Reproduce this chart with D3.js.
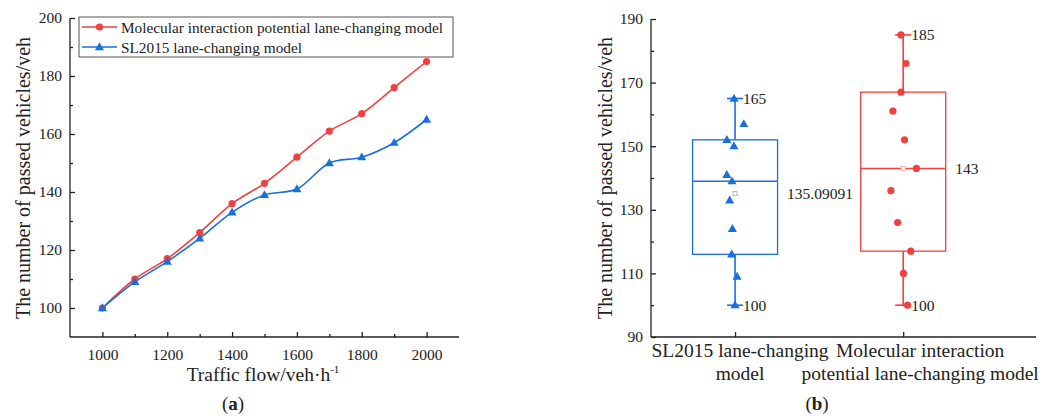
<!DOCTYPE html>
<html>
<head>
<meta charset="utf-8">
<script src="https://cdn.jsdelivr.net/npm/d3@7"></script>
<style>
  body { margin: 0; background: #fff; }
  text { font-family: "Liberation Serif", "Times New Roman", serif; fill: #222; }
</style>
</head>
<body>
<svg id="chart" width="1052" height="416"></svg>
<script>
// ---- data ----
var flows = [1000, 1100, 1200, 1300, 1400, 1500, 1600, 1700, 1800, 1900, 2000];
var molecular = [100, 110, 117, 126, 136, 143, 152, 161, 167, 176, 185];
var sl2015 = [100, 109, 116, 124, 133, 139, 141, 150, 152, 157, 165];
// horizontal jitter of the scatter points in panel (b), category units
var jitterSL = [0, 0.012, -0.02, -0.016, -0.032, -0.018, -0.049, -0.007, -0.049, 0.052, -0.006];
var jitterMol = [0.026, 0.002, 0.045, -0.033, -0.073, 0.079, 0.008, -0.061, -0.013, 0.017, -0.013];
var catLabels = [["SL2015 lane-changing", "model"], ["Molecular interaction", "potential lane-changing model"]];
var meanLabels = ["135.09091", "143"];

var red = "#F14040", blue = "#1A6FDF";
var svg = d3.select("#chart");

// ---- panel (a) ----
var xa = d3.scaleLinear().domain([900, 2100]).range([70, 459]);
var ya = d3.scaleLinear().domain([90, 200]).range([337, 18]);

var ga = svg.append("g");
ga.append("g")
    .attr("transform", "translate(0,337)")
    .call(d3.axisBottom(xa).tickValues(d3.range(1000, 2001, 200)).tickSize(-5).tickPadding(12).tickFormat(d3.format("d")))
    .call(g => g.select(".domain").attr("d", "M70,0H459"));
ga.append("g")
    .attr("transform", "translate(0,337)")
    .call(d3.axisBottom(xa).tickValues(d3.range(1100, 2000, 200)).tickSize(-3).tickFormat(""))
    .call(g => g.select(".domain").remove());
ga.append("g")
    .attr("transform", "translate(70,0)")
    .call(d3.axisLeft(ya).tickValues(d3.range(100, 201, 20)).tickSize(-5).tickPadding(8))
    .call(g => g.select(".domain").attr("d", "M0,337V18"));
ga.append("g")
    .attr("transform", "translate(70,0)")
    .call(d3.axisLeft(ya).tickValues(d3.range(110, 200, 20)).tickSize(-3).tickFormat(""))
    .call(g => g.select(".domain").remove());

svg.selectAll(".tick text").style("font-size", "15.5px").style("font-family", "Liberation Serif");
svg.selectAll(".domain, .tick line").attr("stroke", "#222").attr("stroke-width", 1.3);

var line = d3.line().x((d, i) => xa(flows[i])).y(d => ya(d)).curve(d3.curveCatmullRom);
ga.append("path").datum(molecular).attr("d", line).attr("fill", "none").attr("stroke", red).attr("stroke-width", 1.6);
ga.append("path").datum(sl2015).attr("d", line).attr("fill", "none").attr("stroke", blue).attr("stroke-width", 1.6);

ga.selectAll(".pm").data(molecular).enter().append("circle")
    .attr("cx", (d, i) => xa(flows[i])).attr("cy", d => ya(d)).attr("r", 3.6).attr("fill", red);
var tri = d3.symbol().type(d3.symbolTriangle).size(36);
ga.selectAll(".ps").data(sl2015).enter().append("path")
    .attr("d", tri).attr("transform", (d, i) => "translate(" + xa(flows[i]) + "," + (ya(d) + 0.5) + ")").attr("fill", blue);

// legend
var lg = ga.append("g");
lg.append("rect").attr("x", 79).attr("y", 17).attr("width", 374).attr("height", 40)
    .attr("fill", "#fff").attr("stroke", "#555").attr("stroke-width", 1);
[[red, "Molecular interaction potential lane-changing model", 27, "c"], [blue, "SL2015 lane-changing model", 47, "t"]].forEach(function (e) {
    lg.append("line").attr("x1", 82).attr("x2", 117).attr("y1", e[2]).attr("y2", e[2]).attr("stroke", e[0]).attr("stroke-width", 1.6);
    if (e[3] == "c") lg.append("circle").attr("cx", 99.5).attr("cy", e[2]).attr("r", 3.6).attr("fill", e[0]);
    else lg.append("path").attr("d", tri).attr("transform", "translate(99.5," + (e[2] + 0.5) + ")").attr("fill", e[0]);
    lg.append("text").attr("x", 121).attr("y", e[2] + 5.5).style("font-size", "15.3px").text(e[1]);
});

ga.append("text").attr("transform", "translate(30,178) rotate(-90)").attr("text-anchor", "middle")
    .style("font-size", "20px").text("The number of passed vehicles/veh");
var xt = ga.append("text").attr("x", 263).attr("y", 381).attr("text-anchor", "middle").style("font-size", "19.5px");
xt.append("tspan").text("Traffic flow/veh·h");
xt.append("tspan").attr("dy", -8).style("font-size", "11px").text("-1");
var la = ga.append("text").attr("x", 233).attr("y", 410).attr("text-anchor", "middle").style("font-size", "19px");
la.append("tspan").text("(");
la.append("tspan").style("font-weight", "bold").text("a");
la.append("tspan").text(")");

// ---- panel (b) ----
var xb = d3.scaleLinear().domain([0.5, 2.79]).range([651, 1036]);
var yb = d3.scaleLinear().domain([90, 190]).range([337, 19]);
var gb = svg.append("g");

gb.append("g")
    .attr("transform", "translate(0,337)")
    .call(d3.axisBottom(xb).tickValues([1, 2]).tickSize(-5).tickFormat(""))
    .call(g => g.select(".domain").attr("d", "M651,0H1036"));
gb.append("g")
    .attr("transform", "translate(651,0)")
    .call(d3.axisLeft(yb).tickValues(d3.range(90, 191, 20)).tickSize(-5).tickPadding(8))
    .call(g => g.select(".domain").attr("d", "M0,337V19"));
gb.append("g")
    .attr("transform", "translate(651,0)")
    .call(d3.axisLeft(yb).tickValues(d3.range(100, 190, 20)).tickSize(-3).tickFormat(""))
    .call(g => g.select(".domain").remove());
gb.selectAll(".tick text").style("font-size", "15.5px").style("font-family", "Liberation Serif");
gb.selectAll(".domain, .tick line").attr("stroke", "#222").attr("stroke-width", 1.3);

var catDx = [5, 17];
catLabels.forEach(function (lines, i) {
    lines.forEach(function (t, j) {
        gb.append("text").attr("x", xb(i + 1) + catDx[i]).attr("y", 357 + j * 23)
            .attr("text-anchor", "middle").style("font-size", "19.5px").text(t);
    });
});

// quartiles the way the original tool does it: rank (n+1)p
function quant(v, p) {
    var s = v.slice().sort(d3.ascending), r = (s.length + 1) * p - 1;
    var lo = Math.floor(r), hi = Math.ceil(r);
    return s[lo] + (s[hi] - s[lo]) * (r - lo);
}

[[sl2015, blue, jitterSL, "#7fb0ef"], [molecular, red, jitterMol, "#f5a0a0"]].forEach(function (s, i) {
    var vals = s[0], col = s[1], cx = xb(i + 1), hw = 42.5;
    var q1 = quant(vals, 0.25), q3 = quant(vals, 0.75), med = d3.median(vals), mn = d3.min(vals), mx = d3.max(vals), mean = d3.mean(vals);
    var g = gb.append("g");
    g.append("line").attr("x1", cx).attr("x2", cx).attr("y1", yb(q3)).attr("y2", yb(mx)).attr("stroke", col).attr("stroke-width", 1.6);
    g.append("line").attr("x1", cx).attr("x2", cx).attr("y1", yb(q1)).attr("y2", yb(mn)).attr("stroke", col).attr("stroke-width", 1.6);
    [mx, mn].forEach(function (v) {
        g.append("line").attr("x1", cx - 8).attr("x2", cx + 8).attr("y1", yb(v)).attr("y2", yb(v)).attr("stroke", col).attr("stroke-width", 1.6);
        g.append("text").attr("x", cx + 8).attr("y", yb(v) + 5.5).style("font-size", "15.5px").text(v);
    });
    g.append("rect").attr("x", cx - hw).attr("y", yb(q3)).attr("width", hw * 2).attr("height", yb(q1) - yb(q3))
        .attr("fill", "none").attr("stroke", col).attr("stroke-width", 1.3);
    g.append("line").attr("x1", cx - hw).attr("x2", cx + hw).attr("y1", yb(med)).attr("y2", yb(med)).attr("stroke", col).attr("stroke-width", 1.6);
    g.append("rect").attr("x", cx - 2).attr("y", yb(mean) - 2).attr("width", 4).attr("height", 4)
        .attr("fill", "#fff").attr("stroke", s[3]).attr("stroke-width", 0.8);
    g.append("text").attr("x", cx + 52).attr("y", yb(mean) + 5.5).style("font-size", "15.5px").text(meanLabels[i]);
    if (i == 0) {
        g.selectAll(".pt").data(vals).enter().append("path").attr("d", tri)
            .attr("transform", (d, k) => "translate(" + xb(i + 1 + s[2][k]) + "," + (yb(d) + 0.5) + ")").attr("fill", col);
    } else {
        g.selectAll(".pt").data(vals).enter().append("circle")
            .attr("cx", (d, k) => xb(i + 1 + s[2][k])).attr("cy", d => yb(d)).attr("r", 3.6).attr("fill", col);
    }
});

gb.append("text").attr("transform", "translate(612,178) rotate(-90)").attr("text-anchor", "middle")
    .style("font-size", "20px").text("The number of passed vehicles/veh");
var lb = gb.append("text").attr("x", 817).attr("y", 410).attr("text-anchor", "middle").style("font-size", "19px");
lb.append("tspan").text("(");
lb.append("tspan").style("font-weight", "bold").text("b");
lb.append("tspan").text(")");
</script>
</body>
</html>
